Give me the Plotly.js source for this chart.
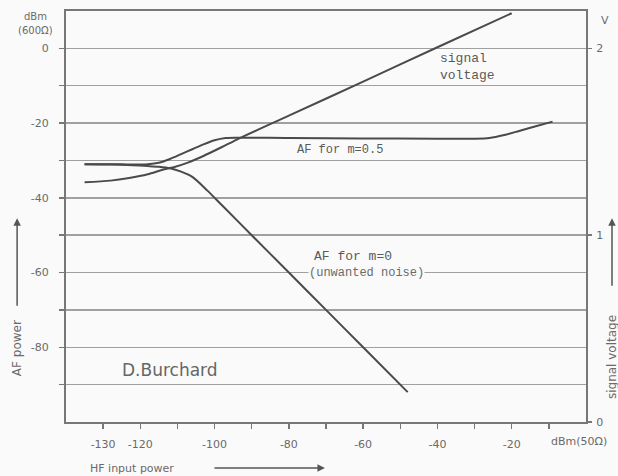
<!DOCTYPE html>
<html>
<head>
<meta charset="utf-8">
<script src="https://cdn.plot.ly/plotly-3.0.1.min.js"></script>
<style>html,body{margin:0;padding:0;background:#fafafa;}#chart{width:618px;height:476px;}</style>
</head>
<body>
<div id="chart"></div>
<script>
// HF input power (dBm, 50 ohm)
const m05_x = [-135, -128, -122, -118, -115, -112, -109, -106, -103, -100, -97, -94, -80, -60, -40, -30, -26, -22, -18, -14, -9];
const m05_y = [-31.0, -31.0, -31.1, -31.0, -30.6, -29.6, -28.3, -27.0, -25.7, -24.6, -24.0, -23.9, -24.0, -24.1, -24.2, -24.2, -24.0, -23.2, -22.1, -21.0, -19.6];

const m0_x = [-135, -128, -122, -118, -115, -112, -109, -106, -102, -98, -90, -80, -70, -60, -48];
const m0_y = [-31.0, -31.1, -31.3, -31.5, -31.7, -32.1, -33.0, -34.4, -38.0, -42.0, -50.0, -60.0, -70.0, -80.0, -92.0];

// signal voltage (V, right axis)
const sig_x = [-135, -128, -123, -118, -114, -111, -107, -103, -98, -94, -80, -60, -40, -20];
const sig_v = [1.283, 1.292, 1.306, 1.326, 1.350, 1.364, 1.390, 1.424, 1.472, 1.512, 1.640, 1.822, 2.006, 2.188];

const xTickVals = [-130, -120, -110, -100, -90, -80, -70, -60, -50, -40, -30, -20, -10];
const xTickText = ['-130', '-120', '', '-100', '', '-80', '', '-60', '', '-40', '', '-20', ''];
const yTickVals = [0, -10, -20, -30, -40, -50, -60, -70, -80, -90];
const yTickText = ['0', '', '-20', '', '-40', '', '-60', '', '-80', ''];
const vTickVals = [0, 1, 2];
const vTickText = ['0', '1', '2'];

const lineCol = '#4a4a4a';
const txtCol = '#6a6a6a';
const tickFont = {family: 'DejaVu Sans', size: 11, color: txtCol};
const mono = {family: 'Liberation Mono', size: 13, color: '#5a5a5a'};

const traces = [
  {x: m05_x, y: m05_y, mode: 'lines', line: {color: lineCol, width: 2, shape: 'spline', smoothing: 0.8}, yaxis: 'y', hoverinfo: 'skip'},
  {x: m0_x, y: m0_y, mode: 'lines', line: {color: lineCol, width: 2, shape: 'spline', smoothing: 0.8}, yaxis: 'y', hoverinfo: 'skip'},
  {x: sig_x, y: sig_v, mode: 'lines', line: {color: lineCol, width: 2, shape: 'spline', smoothing: 0.8}, yaxis: 'y2', hoverinfo: 'skip'}
];

function txt(xr, yr, x, y, text, font, extra) {
  return Object.assign({xref: xr, yref: yr, x: x, y: y, text: text, showarrow: false,
    xanchor: 'center', yanchor: 'middle', font: font}, extra || {});
}
function arrow(x, y, ax, ay) {
  return {xref: 'paper', yref: 'paper', x: x, y: y, ax: ax, ay: ay, text: '', showarrow: true,
    arrowhead: 2, arrowsize: 1, arrowwidth: 1.5, arrowcolor: '#555'};
}
const small = {family: 'DejaVu Sans', size: 10, color: txtCol};
const sideFont = {family: 'DejaVu Sans', size: 12, color: txtCol};

const layout = {
  width: 618, height: 476,
  margin: {l: 66, r: 32, t: 11, b: 54},
  paper_bgcolor: '#fafafa', plot_bgcolor: '#fafafa',
  showlegend: false,
  xaxis: {
    range: [-140, 0], tickmode: 'array', tickvals: xTickVals, ticktext: xTickText,
    showgrid: false, zeroline: false, showline: true, linecolor: '#777', linewidth: 2, mirror: true,
    ticks: 'outside', ticklen: 5, tickwidth: 1.5, tickcolor: '#777', tickfont: tickFont, ticklabelstandoff: 6
  },
  yaxis: {
    range: [-100, 10], tickmode: 'array', tickvals: yTickVals, ticktext: yTickText,
    showgrid: true, gridcolor: '#a0a0a0', gridwidth: 1.5, zeroline: false,
    showline: true, linecolor: '#777', linewidth: 2, mirror: true,
    ticks: 'outside', ticklen: 5, tickwidth: 1.5, tickcolor: '#777', tickfont: tickFont, ticklabelstandoff: 8
  },
  yaxis2: {
    range: [0, 2.2], overlaying: 'y', side: 'right', tickmode: 'array', tickvals: vTickVals, ticktext: vTickText,
    showgrid: false, zeroline: false, showline: false,
    ticks: 'outside', ticklen: 5, tickwidth: 1.5, tickcolor: '#777', tickfont: tickFont, ticklabelstandoff: 2
  },
  annotations: [
    txt('paper', 'paper', -0.058, 0.986, 'dBm', small),
    txt('paper', 'paper', -0.058, 0.952, '(600Ω)', small),
    txt('paper', 'paper', 1.025, 0.976, 'V', tickFont, {xanchor: 'left'}),
    txt('x', 'paper', -10, -0.048, 'dBm(50Ω)', tickFont, {xanchor: 'left'}),
    txt('paper', 'paper', 0.127, -0.112, 'HF input power', tickFont),
    arrow(0.498, -0.112, -112, 0),
    txt('paper', 'paper', -0.094, 0.18, 'AF power', sideFont, {textangle: -90}),
    arrow(-0.094, 0.496, 0, 89),
    txt('paper', 'paper', 1.05, 0.158, 'signal voltage', sideFont, {textangle: -90}),
    arrow(1.05, 0.496, 0, 69),
    txt('x', 'y', -39.8, -5.1, 'signal<br>voltage', mono, {xanchor: 'left', align: 'left'}),
    txt('x', 'y', -66.1, -27.2, 'AF for m=0.5', {family: 'Liberation Mono', size: 12, color: '#5a5a5a'}),
    txt('x', 'y', -73.8, -55.8, 'AF for m=0', mono, {xanchor: 'left'}),
    txt('x', 'y', -74.8, -60.05, '(unwanted noise)', {family: 'Liberation Mono', size: 12, color: '#6a6a6a'}, {xanchor: 'left', bgcolor: '#fafafa', borderpad: 0}),
    txt('x', 'y', -125.5, -86.2, 'D.Burchard', {family: 'DejaVu Sans', size: 17, color: '#666'}, {xanchor: 'left'})
  ]
};

Plotly.newPlot('chart', traces, layout, {staticPlot: true, displayModeBar: false});
</script>
</body>
</html>
